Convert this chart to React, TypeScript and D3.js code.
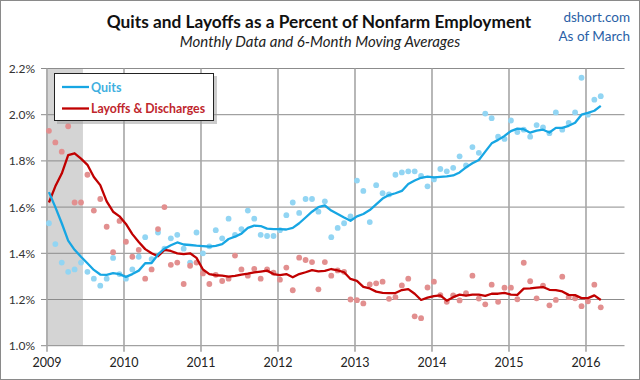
import React from "react";
import * as d3 from "d3";

const years = ["2009", "2010", "2011", "2012", "2013", "2014", "2015", "2016"];
const yTicks = [1.0, 1.2, 1.4, 1.6, 1.8, 2.0, 2.2];

// Monthly data Jan 2009 - Mar 2016 (87 months), percent
const quits = [
  1.53, 1.44, 1.36, 1.32, 1.33, 1.36, 1.32, 1.29, 1.26, 1.29, 1.38, 1.31,
  1.29, 1.33, 1.385, 1.47, 1.375, 1.49, 1.42, 1.465, 1.48, 1.42, 1.36, 1.49,
  1.40, 1.43, 1.50, 1.465, 1.55, 1.48, 1.505, 1.585, 1.55, 1.48, 1.475, 1.475,
  1.50, 1.565, 1.62, 1.575, 1.635, 1.635, 1.58, 1.625, 1.47, 1.51, 1.53, 1.56,
  1.715, 1.67, 1.535, 1.695, 1.66, 1.655, 1.74, 1.75, 1.755, 1.755, 1.735, 1.69,
  1.72, 1.765, 1.755, 1.77, 1.82, 1.78, 1.86, 1.835, 2.005, 1.985, 1.905, 1.895,
  1.975, 1.925, 1.935, 1.905, 1.955, 1.945, 1.92, 2.01, 1.935, 1.965, 2.01, 2.16,
  2.0, 2.065, 2.08,
];

const quitsMA = [
  1.665, 1.6, 1.53, 1.455, 1.415, 1.385, 1.357, 1.328, 1.308, 1.307, 1.314, 1.31,
  1.298, 1.31, 1.325, 1.357, 1.358, 1.395, 1.42, 1.435, 1.447, 1.438, 1.436, 1.433,
  1.431, 1.429, 1.432, 1.44, 1.462, 1.472, 1.485, 1.51, 1.52, 1.518, 1.507, 1.505,
  1.505, 1.503, 1.51, 1.53, 1.555, 1.58, 1.6, 1.607, 1.585, 1.57, 1.555, 1.541,
  1.56, 1.57, 1.587, 1.612, 1.637, 1.652, 1.66, 1.67, 1.7, 1.715, 1.727, 1.732,
  1.729, 1.731, 1.733, 1.737, 1.75, 1.772, 1.79, 1.804, 1.84, 1.876, 1.891, 1.908,
  1.929, 1.94, 1.937, 1.922, 1.931, 1.935, 1.923, 1.943, 1.943, 1.952, 1.965, 2.0,
  2.008, 2.017, 2.038,
];

const layoffs = [
  1.93, 1.88, 1.84, 1.95, 1.62, 1.62, 1.74, 1.585, 1.635, 1.515, 1.405, 1.54,
  1.45, 1.385, 1.415, 1.29, 1.33, 1.505, 1.6, 1.35, 1.36, 1.267, 1.346, 1.36,
  1.313, 1.267, 1.307, 1.28, 1.29, 1.39, 1.33, 1.303, 1.333, 1.29, 1.33, 1.316,
  1.286, 1.338, 1.24, 1.381, 1.371, 1.362, 1.244, 1.362, 1.303, 1.326, 1.32, 1.2,
  1.197, 1.183, 1.265, 1.27, 1.277, 1.203, 1.21, 1.261, 1.29, 1.127, 1.119, 1.252,
  1.277, 1.219, 1.19, 1.218, 1.196, 1.227, 1.303, 1.204, 1.179, 1.264, 1.19, 1.251,
  1.251, 1.201, 1.359, 1.279, 1.205, 1.26, 1.175, 1.198, 1.299, 1.21, 1.205, 1.171,
  1.192, 1.264, 1.166,
];

const layoffsMA = [
  1.62, 1.69, 1.745, 1.825, 1.833, 1.81, 1.783, 1.73, 1.695, 1.625, 1.58, 1.56,
  1.527, 1.483, 1.449, 1.418, 1.4, 1.387, 1.415, 1.41, 1.4, 1.396, 1.4, 1.38,
  1.33, 1.31, 1.305, 1.303, 1.299, 1.302, 1.308, 1.312, 1.317, 1.321, 1.325, 1.31,
  1.306, 1.31, 1.296, 1.31, 1.318, 1.327, 1.322, 1.324, 1.332, 1.326, 1.318, 1.289,
  1.281, 1.255, 1.248, 1.234, 1.229, 1.228, 1.228, 1.241, 1.245, 1.225, 1.198, 1.208,
  1.215, 1.218, 1.195, 1.21, 1.221, 1.217, 1.221, 1.221, 1.216, 1.225, 1.225, 1.229,
  1.221, 1.22, 1.247, 1.248, 1.251, 1.254, 1.242, 1.241, 1.235, 1.22, 1.219, 1.206,
  1.206, 1.218, 1.198,
];

// recession shading: Jan 2009 through Jun 2009 (months offsets)
const recession = [0, 5.6];

const W = 640;
const H = 380;
const FONT = "Lato, 'Open Sans', sans-serif";

const QUITS_LINE = "#17a6e3";
const QUITS_DOT = "#92d5f3";
const LAY_LINE = "#c00000";
const LAY_DOT = "#e28f8f";

export default function App() {
  const x = d3.scaleLinear().domain([0, 90]).range([47, 624.5]);
  const y = d3.scaleLinear().domain([1.0, 2.2]).range([345.7, 68.5]);
  const off = 0.3;

  const line = d3
    .line<number>()
    .x((_, i) => x(i + off))
    .y((d) => y(d))
    .curve(d3.curveLinear);

  const right = x.range()[1];

  return (
    <svg
      width={W}
      height={H}
      style={{ position: "absolute", left: 0, top: 0, background: "#fff" }}
      fontFamily={FONT}
    >
      <rect x={0.5} y={0.5} width={W - 1} height={H - 1} fill="#fff" stroke="#8a8a8a" />

      {/* recession band */}
      <rect
        x={x(recession[0]) - 1}
        y={y(2.2)}
        width={x(recession[1]) - x(recession[0]) + 1}
        height={y(1.0) - y(2.2)}
        fill="#d4d4d4"
      />

      {/* horizontal grid */}
      {yTicks.map((t) => (
        <g key={t}>
          <line x1={41} x2={right} y1={y(t)} y2={y(t)} stroke="#8c8c8c" strokeWidth={1} />
          <text x={35} y={y(t) + 4.5} textAnchor="end" fontSize={12} fill="#333">
            {t.toFixed(1) + "%"}
          </text>
        </g>
      ))}

      {/* vertical grid */}
      {years.map((yr, i) => (
        <g key={yr}>
          <line
            x1={x(i * 12)}
            x2={x(i * 12)}
            y1={y(2.2)}
            y2={y(1.0) + 6}
            stroke="#a6a6a6"
            strokeWidth={1.6}
          />
          <text x={x(i * 12)} y={367} textAnchor="middle" fontSize={12.5} fill="#222">
            {yr}
          </text>
        </g>
      ))}

      {/* dots */}
      {quits.map((v, i) => (
        <circle key={"q" + i} cx={x(i + off)} cy={y(v)} r={2.9} fill={QUITS_DOT} />
      ))}
      {layoffs.map((v, i) => (
        <circle key={"l" + i} cx={x(i + off)} cy={y(v)} r={2.9} fill={LAY_DOT} />
      ))}

      {/* moving averages */}
      <path d={line(layoffsMA) || ""} fill="none" stroke={LAY_LINE} strokeWidth={2.3} strokeLinejoin="round" />
      <path d={line(quitsMA) || ""} fill="none" stroke={QUITS_LINE} strokeWidth={2.3} strokeLinejoin="round" />

      {/* legend */}
      <rect x={57} y={76} width={160} height={48} fill="#9a9a9a" opacity={0.5} />
      <rect x={54.5} y={73.5} width={159} height={47} fill="#fff" stroke="#222" strokeWidth={1} />
      <line x1={62} x2={89} y1={87} y2={87} stroke={QUITS_LINE} strokeWidth={2.3} />
      <text x={91} y={91.5} fontSize={12.5} fontWeight="bold" fill="#3fb0e0">
        Quits
      </text>
      <line x1={62} x2={89} y1={108.5} y2={108.5} stroke={LAY_LINE} strokeWidth={2.3} />
      <text x={91} y={113} fontSize={12.3} fontWeight="bold" fill="#c0262c">
        Layoffs &amp; Discharges
      </text>

      {/* titles */}
      <text x={319} y={28} textAnchor="middle" fontSize={17.3} fontWeight="bold" fill="#111">
        Quits and Layoffs as a Percent of Nonfarm Employment
      </text>
      <text x={320} y={47} textAnchor="middle" fontSize={15} fontStyle="italic" fill="#222">
        Monthly Data and 6-Month Moving Averages
      </text>
      <text x={630} y={22} textAnchor="end" fontSize={13.5} fill="#2a5fa6">
        dshort.com
      </text>
      <text x={630} y={41} textAnchor="end" fontSize={13.5} fill="#2a5fa6">
        As of March
      </text>
    </svg>
  );
}
